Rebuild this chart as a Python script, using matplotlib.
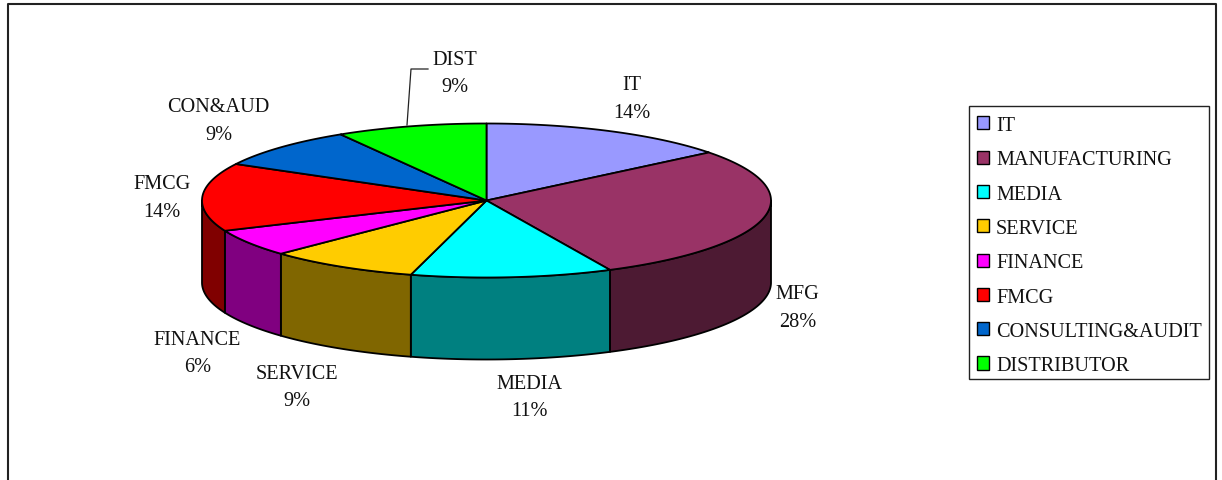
import numpy as np
import matplotlib
matplotlib.use("Agg")
import matplotlib.pyplot as plt
from matplotlib.patches import Polygon, Patch, Rectangle

# slices, clockwise from 12 o'clock
short_names = ["IT", "MFG", "MEDIA", "SERVICE", "FINANCE", "FMCG", "CON&AUD", "DIST"]
legend_names = ["IT", "MANUFACTURING", "MEDIA", "SERVICE", "FINANCE", "FMCG",
                "CONSULTING&AUDIT", "DISTRIBUTOR"]
counts = [5, 10, 4, 3, 2, 5, 3, 3]
pct_labels = ["14%", "28%", "11%", "9%", "6%", "14%", "9%", "9%"]
top_colors = ["#9999FF", "#993366", "#00FFFF", "#FFCC00", "#FF00FF", "#FF0000", "#0066CC", "#00FF00"]
side_colors = ["#4D4D80", "#4D1A33", "#008080", "#806600", "#800080", "#800000", "#003366", "#008000"]

# pie geometry in pixels
cx, cy = 486.5, 201.5
rx, ry = 284.5, 77
depth = 82
# label centres in pixels
label_x = [632, 797.5, 529.5, 296.5, 197.5, 162, 218.5, 455]
label_y = [99.5, 308.5, 398, 388, 354, 198.5, 121.5, 74]

plt.rcParams['font.family'] = ['Liberation Serif', 'DejaVu Serif']


def arc(a0, a1, yc=cy):
    t = np.radians(np.linspace(a0, a1, 120))
    return np.column_stack([cx + rx * np.sin(t), yc - ry * np.cos(t)])


fig = plt.figure(figsize=(12.22, 4.81), dpi=100)
ax = fig.add_axes([0, 0, 1, 1])
ax.set_xlim(0, 1222)
ax.set_ylim(481, 0)
ax.axis("off")

# frame has no bottom edge, picture is cropped there
ax.plot([7.5, 7.5, 1216, 1216], [481, 4.5, 4.5, 481], color="#222222", lw=1.5, clip_on=False)

edges = np.cumsum([0] + counts) / sum(counts) * 360

# side walls first, only the front half is visible
for i in range(len(counts)):
    a0, a1 = max(edges[i], 90), min(edges[i + 1], 270)
    if a1 <= a0:
        continue
    top = arc(a0, a1)
    bottom = arc(a1, a0, cy + depth)
    ax.add_patch(Polygon(np.vstack([top, bottom]), closed=True, facecolor=side_colors[i],
                         edgecolor="black", lw=1.3, joinstyle="round"))

for i in range(len(counts)):
    pts = np.vstack([[cx, cy], arc(edges[i], edges[i + 1])])
    ax.add_patch(Polygon(pts, closed=True, facecolor=top_colors[i], edgecolor="black",
                         lw=1.3, joinstyle="round"))

for i in range(len(counts)):
    ax.text(label_x[i], label_y[i], short_names[i] + "\n" + pct_labels[i], ha="center",
            va="center", fontsize=14.6, color="#111111", linespacing=1.62)

# leader line for DIST
ax.plot([428, 411, 407], [70, 70, 126], color="#222222", lw=0.9)

# legend box drawn apart so the rows can sit where they do in the original
ax.add_patch(Rectangle((969, 107), 240, 273, facecolor="white", edgecolor="#222222", lw=1.0))
handles = [Patch(facecolor=c, edgecolor="black", lw=1.0) for c in top_colors]
ax.legend(handles, legend_names, loc="upper left", bbox_to_anchor=(969, 109.5),
          bbox_transform=ax.transData, fontsize=14.6, frameon=False, borderpad=0.37,
          borderaxespad=0, labelspacing=0.755, handlelength=0.62, handleheight=0.62,
          handletextpad=0.34, labelcolor="#111111")

fig.savefig("out.png", dpi=100, facecolor="white")
